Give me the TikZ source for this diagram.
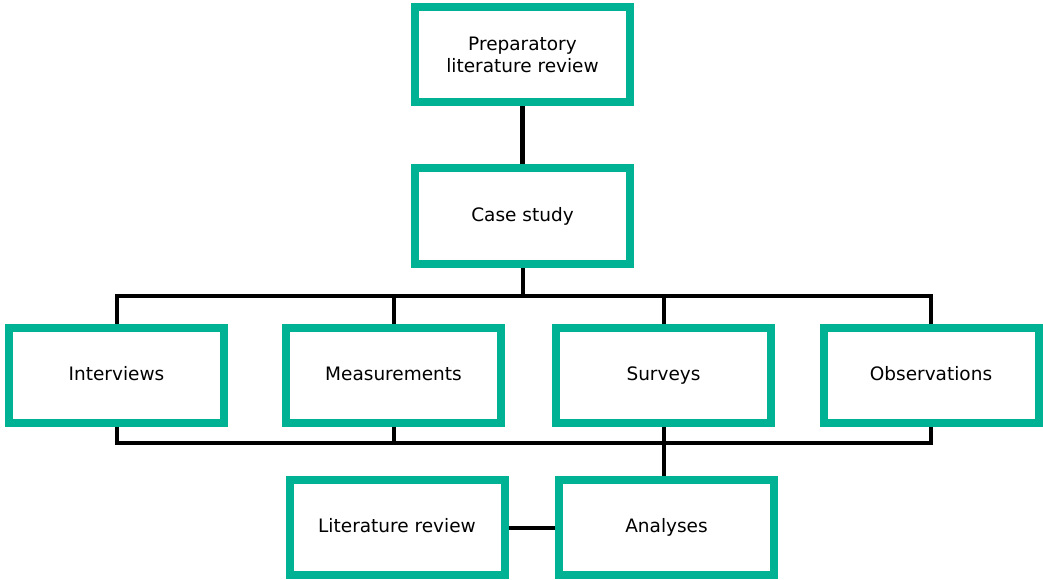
\documentclass[tikz,border=0pt]{standalone}
\usepackage{fontspec}
\setmainfont{DejaVu Sans}
\definecolor{teal1}{RGB}{0,178,148}
\begin{document}
\begin{tikzpicture}[x=1pt,y=-1pt,
  box/.style={draw=teal1, line width=8pt, fill=white, rectangle,
    minimum width=215pt, minimum height=95pt, align=center, inner sep=0pt,
    font=\fontsize{18.5}{22}\selectfont},
  one/.style={text height=13.5pt, text depth=3.5pt},
  conn/.style={draw=black, line width=4pt},
  thick conn/.style={draw=black, line width=5pt}]
\useasboundingbox (0,0) rectangle (1043,580);
\node[box] (prep) at (522.5,54.5) {Preparatory\\literature review};
\node[box, one] (case) at (522.5,216) {Case study};
\node[box, one] (int) at (116.5,375) {Interviews};
\node[box, one] (meas) at (393.5,375) {Measurements};
\node[box, one] (surv) at (663.5,375) {Surveys};
\node[box, one] (obs) at (931,375) {Observations};
\node[box, one] (lit) at (397,527.5) {Literature review};
\node[box, one] (anal) at (666.5,527.5) {Analyses};
\coordinate (bus1) at (0,296);
\coordinate (bus2) at (0,443);
\draw[thick conn] (prep.south) -- (case.north);
\draw[conn] (case.south) -- (case.south |- bus1);
\draw[conn] (int.north) -- (int.north |- bus1) -- (obs.north |- bus1) -- (obs.north);
\draw[conn] (meas.north) -- (meas.north |- bus1);
\draw[conn] (surv.north) -- (surv.north |- bus1);
\draw[conn] (int.south) -- (int.south |- bus2) -- (obs.south |- bus2) -- (obs.south);
\draw[conn] (meas.south) -- (meas.south |- bus2);
\draw[conn] (surv.south) -- (surv.south |- anal.north);
\draw[conn] (lit.east) -- (anal.west);
\end{tikzpicture}
\end{document}
